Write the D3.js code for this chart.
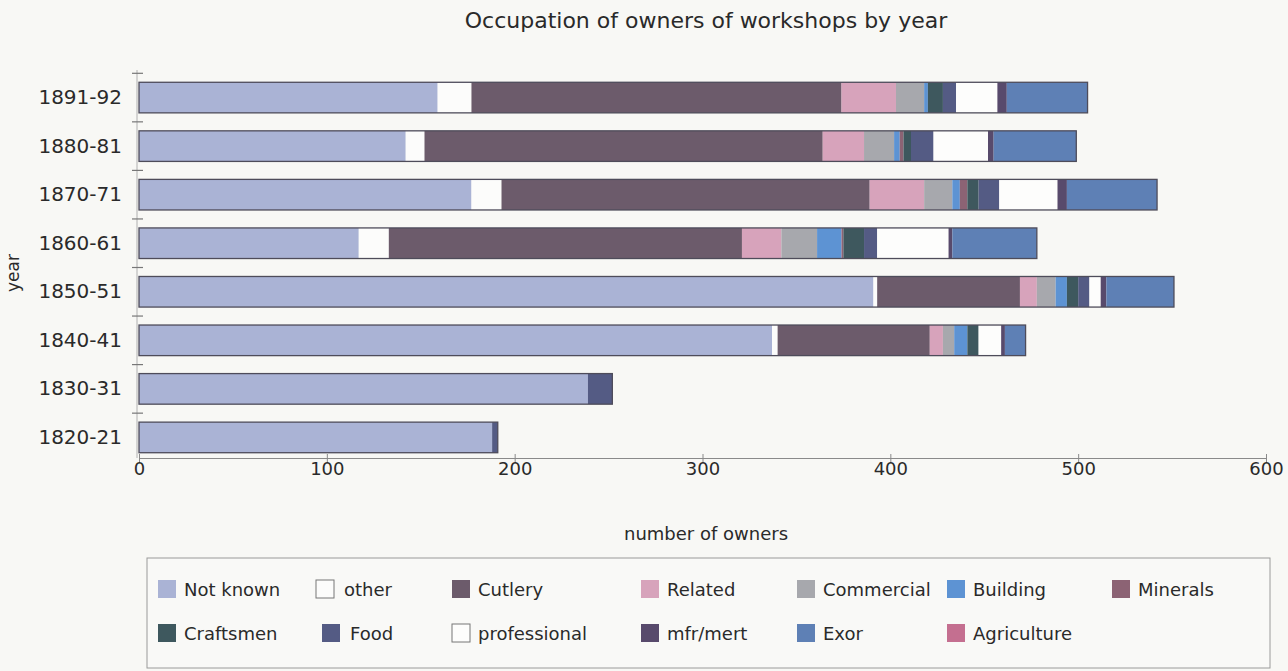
<!DOCTYPE html>
<html>
<head>
<meta charset="utf-8">
<script src="https://cdn.jsdelivr.net/npm/d3@7"></script>
<style>
  html, body { margin: 0; padding: 0; background: #f8f8f5; }
  svg { display: block; }
  text { font-family: "DejaVu Sans", Verdana, sans-serif; fill: #2a2a2a; }
</style>
</head>
<body>
<svg id="chart" width="1288" height="671"></svg>
<script>
// Census years, top row first
const years = ["1891-92", "1880-81", "1870-71", "1860-61", "1850-51", "1840-41", "1830-31", "1820-21"];

// Occupation groups in stacking order
const occupations = ["Not known", "other", "Cutlery", "Related", "Commercial", "Building", "Minerals",
                     "Craftsmen", "Food", "professional", "mfr/mert", "Exor", "Agriculture"];

// Number of owners per occupation, one array per year (same order as occupations)
const owners1891 = [159, 18, 197, 29, 15, 2, 0, 8, 7, 22, 5, 43, 0];
const owners1880 = [142, 10, 212, 22, 16, 3, 2, 4, 12, 29, 3, 44, 0];
const owners1870 = [177, 16, 196, 29, 15, 4, 4, 6, 11, 31, 5, 48, 0];
const owners1860 = [117, 16, 188, 21, 19, 13, 1, 11, 7, 38, 2, 45, 0];
const owners1850 = [391, 2, 76, 9, 10, 6, 0, 6, 6, 6, 3, 36, 0];
const owners1840 = [337, 3, 81, 7, 6, 7, 0, 6, 0, 12, 2, 11, 0];
const owners1830 = [239, 0, 0, 0, 0, 0, 0, 0, 13, 0, 0, 0, 0];
const owners1820 = [188, 0, 0, 0, 0, 0, 0, 0, 3, 0, 0, 0, 0];

const xTicks = [0, 100, 200, 300, 400, 500, 600];

const colors = {
  "Not known": "#aab3d5",
  "other": "#fcfcfb",
  "Cutlery": "#6c5b6b",
  "Related": "#d7a3bb",
  "Commercial": "#a7a8ad",
  "Building": "#5d93d3",
  "Minerals": "#8c6374",
  "Craftsmen": "#3e585e",
  "Food": "#545b84",
  "professional": "#fdfdfc",
  "mfr/mert": "#584a6c",
  "Exor": "#5e80b5",
  "Agriculture": "#c46f90"
};

const rows = [owners1891, owners1880, owners1870, owners1860, owners1850, owners1840, owners1830, owners1820]
  .map((vals, i) => {
    const r = { year: years[i] };
    occupations.forEach((o, j) => r[o] = vals[j]);
    return r;
  });

const svg = d3.select("#chart");

const x = d3.scaleLinear().domain([0, 600]).range([139, 1266]);
const y = d3.scaleBand().domain(years).range([75, 460]).paddingInner(0.37).paddingOuter(0.15);

const stacked = d3.stack().keys(occupations)(rows);

// Title
svg.append("text")
  .attr("x", 706).attr("y", 28)
  .attr("text-anchor", "middle")
  .style("font-size", "22px")
  .text("Occupation of owners of workshops by year");

// Stacked bars
const layers = svg.append("g").selectAll("g")
  .data(stacked).join("g")
  .attr("fill", d => colors[d.key]);

layers.selectAll("rect")
  .data(d => d.filter(s => s[1] - s[0] > 0))
  .join("rect")
  .attr("x", d => x(d[0]))
  .attr("y", d => y(d.data.year))
  .attr("width", d => x(d[1]) - x(d[0]))
  .attr("height", y.bandwidth());

// Outline around each whole bar
svg.append("g").selectAll("rect")
  .data(rows).join("rect")
  .attr("x", x(0))
  .attr("y", d => y(d.year))
  .attr("width", d => x(d3.sum(occupations, o => d[o])) - x(0))
  .attr("height", y.bandwidth())
  .attr("fill", "none")
  .attr("stroke", "#4e4c5a")
  .attr("stroke-width", 1.3);

// X axis
const xAxis = svg.append("g")
  .attr("transform", "translate(0,458)")
  .call(d3.axisBottom(x).tickValues(xTicks).tickSize(0).tickPadding(4).tickSizeOuter(0));
xAxis.select(".domain").attr("stroke", "#8a8a8a");
xAxis.selectAll(".tick line").attr("stroke", "#8a8a8a").attr("y1", -4).attr("y2", 4);
xAxis.selectAll("text").style("font-size", "18px").attr("fill", "#2a2a2a")
  .style("font-family", "'DejaVu Sans', Verdana, sans-serif");

// Y axis: labels at band centres, tick marks between bands
const yAxis = svg.append("g")
  .attr("transform", "translate(137,0)")
  .call(d3.axisLeft(y).tickSize(0).tickPadding(15));
yAxis.select(".domain").attr("stroke", "#b0b0b0").attr("d", "M0,70V458");
yAxis.selectAll("text").style("font-size", "20px").attr("fill", "#2a2a2a")
  .style("font-family", "'DejaVu Sans', Verdana, sans-serif");

const gap = (y.step() - y.bandwidth()) / 2;
svg.append("g").selectAll("line")
  .data(years).join("line")
  .attr("x1", 132).attr("x2", 143)
  .attr("y1", d => y(d) - gap).attr("y2", d => y(d) - gap)
  .attr("stroke", "#777").attr("stroke-width", 1.2);

// Axis titles
svg.append("text")
  .attr("x", 706).attr("y", 540)
  .attr("text-anchor", "middle")
  .style("font-size", "18px")
  .text("number of owners");

svg.append("text")
  .attr("transform", "translate(19,273) rotate(-90)")
  .attr("text-anchor", "middle")
  .style("font-size", "17px")
  .text("year");

// Legend
svg.append("rect")
  .attr("x", 147).attr("y", 558)
  .attr("width", 1123).attr("height", 110)
  .attr("fill", "#f9f9f7")
  .attr("stroke", "#9a9a9a");

const legendPos = [
  [158, 589], [316, 589], [452, 589], [641, 589], [797, 589], [947, 589], [1112, 589],
  [158, 633], [322, 633], [452, 633], [641, 633], [797, 633], [947, 633]
];

const legend = svg.append("g").selectAll("g")
  .data(occupations).join("g")
  .attr("transform", (d, i) => `translate(${legendPos[i][0]},${legendPos[i][1]})`);

legend.append("rect")
  .attr("x", 0).attr("y", -9)
  .attr("width", 18).attr("height", 18)
  .attr("fill", d => colors[d])
  .attr("stroke", d => (d === "other" || d === "professional") ? "#777" : "none");

legend.append("text")
  .attr("x", d => (d === "other" || d === "Food") ? 28 : 26)
  .attr("y", 7)
  .style("font-size", "18px")
  .text(d => d);
</script>
</body>
</html>
